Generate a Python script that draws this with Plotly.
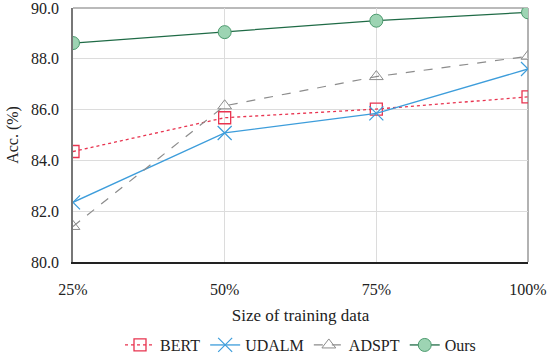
import plotly.graph_objects as go

sizes = ["25%", "50%", "75%", "100%"]
bert = [84.35, 85.68, 86.02, 86.5]
udalm = [82.35, 85.08, 85.85, 87.6]
adspt = [81.4, 86.15, 87.3, 88.1]
ours = [88.62, 89.05, 89.5, 89.83]
y_ticks = [80, 82, 84, 86, 88, 90]

xs = list(range(len(sizes)))
fig = go.Figure()
fig.add_trace(go.Scatter(x=xs, y=bert, name="BERT", mode="lines+markers",
    line=dict(color="#e8334f", width=1.3, dash="dot"),
    marker=dict(symbol="square-open", size=12, color="#e8334f", line=dict(width=1.3))))
fig.add_trace(go.Scatter(x=xs, y=udalm, name="UDALM", mode="lines+markers",
    line=dict(color="#3d9ddb", width=1.3),
    marker=dict(symbol="x-thin-open", size=14, color="#3d9ddb", line=dict(width=1.2, color="#3d9ddb"))))
fig.add_trace(go.Scatter(x=xs, y=adspt, name="ADSPT", mode="lines+markers",
    line=dict(color="#8c8c8c", width=1.2, dash="dash"),
    marker=dict(symbol="triangle-up-open", size=12, color="#8c8c8c", line=dict(width=1))))
fig.add_trace(go.Scatter(x=xs, y=ours, name="Ours", mode="lines+markers",
    line=dict(color="#1f6b46", width=1.3),
    marker=dict(symbol="circle", size=13, color="#9dd4b3", line=dict(width=1, color="#4c9a6e"))))

font = "Liberation Serif"
fig.update_layout(
    width=550, height=358,
    margin=dict(l=73, r=22, t=8, b=96, autoexpand=False),
    paper_bgcolor="white", plot_bgcolor="white",
    font=dict(family=font, size=16, color="#222"),
    showlegend=True,
    legend=dict(orientation="h", x=0.5, xanchor="center", y=-0.26, yanchor="top",
                font=dict(family=font, size=16), tracegroupgap=0, itemwidth=30),
    xaxis=dict(
        tickmode="array", tickvals=xs, ticktext=sizes, range=[0, 3],
        showgrid=True, gridcolor="#dcdcdc", gridwidth=1,
        showline=True, linecolor="#222", linewidth=1.5, mirror=False,
        ticks="outside", ticklen=12, tickcolor="rgba(0,0,0,0)", tickfont=dict(family=font, size=16),
        ticklabeloverflow="allow",
        title=dict(text="Size of training data", font=dict(family=font, size=17), standoff=12),
        zeroline=False,
    ),
    yaxis=dict(
        range=[80, 90], tickvals=y_ticks, tickformat=".1f",
        showgrid=True, gridcolor="#dcdcdc", gridwidth=1,
        showline=True, linecolor="#777", linewidth=1.5,
        ticks="outside", ticklen=9, tickcolor="rgba(0,0,0,0)", tickfont=dict(family=font, size=16),
        ticklabeloverflow="allow",
        title=dict(text="Acc. (%)", font=dict(family=font, size=16), standoff=8),
        zeroline=False,
    ),
)
fig.add_shape(type="line", xref="paper", yref="paper", x0=1, x1=1, y0=0, y1=1,
              line=dict(color="#999", width=1.5), layer="below")
fig.add_shape(type="line", xref="paper", yref="paper", x0=0, x1=1, y0=1, y1=1,
              line=dict(color="#777", width=1.2), layer="below")
fig.write_html("out.html", config={"displayModeBar": False},
               post_script="document.body.style.margin='0';")
